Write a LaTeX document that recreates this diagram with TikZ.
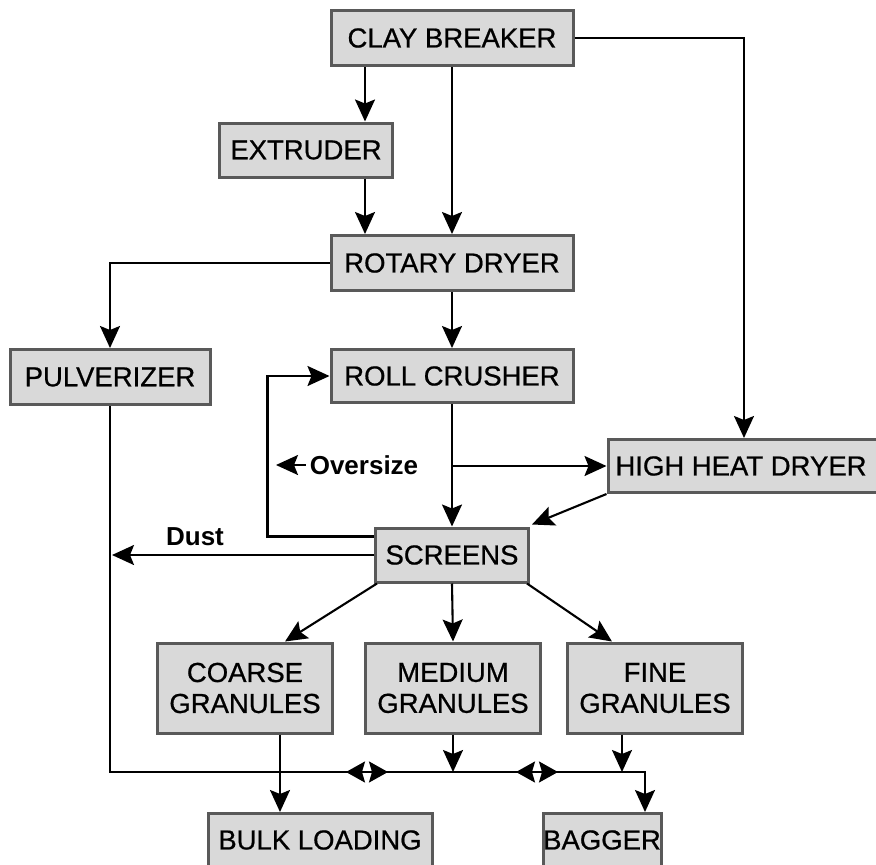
\documentclass[tikz,border=0pt]{standalone}
\usepackage{fontspec}
\setmainfont{Liberation Sans}
\newfontfamily\unitfont{Liberation Sans}[FakeBold=0.7]
\usetikzlibrary{arrows.meta,positioning,calc}

\begin{document}
\begin{tikzpicture}[
  x=1pt, y=-1pt,
  unit/.style={draw=gray!70!black, fill=gray!30, line width=3pt, align=center,
    font=\unitfont\fontsize{27.5}{31}\selectfont, inner sep=0pt},
  flow/.style={draw=black, line width=2.1pt, -{Stealth[length=22pt,width=20pt,inset=4pt]}},
  bus/.style={draw=black, line width=2.1pt},
  twoway/.style={draw=black, line width=2.1pt, {Stealth[length=19pt,width=21pt,inset=3pt]}-{Stealth[length=19pt,width=21pt,inset=3pt]}},
  tag/.style={font=\bfseries\fontsize{26}{29}\selectfont, inner sep=0pt}
]
  \useasboundingbox (0,0) rectangle (876,865);
  \clip (0,0) rectangle (876,865);
  % units
  \node[unit, minimum width=242pt, minimum height=55pt] (breaker) at (452,38) {CLAY BREAKER};
  \node[unit, minimum width=173pt, minimum height=54pt] (extruder) at (306,150) {EXTRUDER};
  \node[unit, minimum width=242pt, minimum height=55pt] (rotary) at (452,263) {ROTARY DRYER};
  \node[unit, minimum width=200pt, minimum height=55pt] (pulver) at (110,377) {PULVERIZER};
  \node[unit, minimum width=242pt, minimum height=53pt] (crusher) at (452,376) {ROLL CRUSHER};
  \node[unit, minimum width=272pt, minimum height=53pt] (hhdryer) at (744,466) {\hspace*{-6pt}HIGH HEAT DRYER};
  \node[unit, minimum width=153pt, minimum height=54pt] (screens) at (452,555) {SCREENS};
  \node[unit, minimum width=175pt, minimum height=90pt] (coarse) at (245,688) {COARSE\\GRANULES};
  \node[unit, minimum width=175pt, minimum height=90pt] (medium) at (453,688) {MEDIUM\\GRANULES};
  \node[unit, minimum width=175pt, minimum height=90pt] (fine) at (655,688) {FINE\\GRANULES};
  \node[unit, minimum width=224pt, minimum height=53pt] (bulk) at (320,840) {BULK LOADING};
  \node[unit, minimum width=118pt, minimum height=53pt] (bagger) at (602,840) {BAGGER};
  \node[tag] (oversize) at (364,465) {Oversize};
  \node[tag] (dust) at (195,537) {Dust};
  % helper points
  \coordinate (col) at (365,0);
  \coordinate (busy) at (0,772);
  \coordinate (overtip) at (276,465);
  \coordinate (dusttip) at (112,555);
  \coordinate (bagin) at ([xshift=43pt]bagger.north);
  \coordinate (swA) at (367,772);
  \coordinate (swB) at (537,772);
  % top part
  \draw[flow] (breaker.south -| col) -- (extruder.north -| col);
  \draw[flow] (extruder.south -| col) -- (rotary.north -| col);
  \draw[flow] (breaker.south) -- (rotary.north);
  \draw[flow] (breaker.east) -| (hhdryer.north);
  \draw[flow] (rotary.west) -| (pulver.north);
  \draw[flow] (rotary.south) -- (crusher.north);
  \draw[flow] (crusher.south) -- (screens.north);
  \draw[flow] (crusher.south |- hhdryer.west) -- (hhdryer.west);
  \draw[flow] ([yshift=-10pt]screens.north west) -| ([xshift=-62pt]crusher.west) -- (crusher.west);
  \draw[flow] ([xshift=-4pt]oversize.west) -- (overtip);
  \draw[flow] (hhdryer.south west) -- ([xshift=2pt,yshift=2pt]screens.north east);
  \draw[flow] (screens.west) -- (dusttip);
  % screens to granules
  \draw[flow] ([xshift=3pt]screens.south west) -- ([xshift=40pt]coarse.north);
  \draw[flow] (screens.south) -- (medium.north);
  \draw[flow] ([xshift=-3pt]screens.south east) -- ([xshift=-43pt]fine.north);
  % bottom collecting line
  \draw[flow] (pulver.south) |- (bagin |- busy) -- (bagin);
  \draw[flow] ([xshift=35pt]coarse.south) -- ([xshift=35pt]coarse.south |- bulk.north);
  \draw[flow] (medium.south) -- (medium.south |- busy);
  \draw[flow] ([xshift=-33pt]fine.south) -- ([xshift=-33pt]fine.south |- busy);
  \draw[twoway] ([xshift=-21pt]swA) -- ([xshift=21pt]swA);
  \draw[twoway] ([xshift=-21pt]swB) -- ([xshift=21pt]swB);
\end{tikzpicture}
\end{document}
